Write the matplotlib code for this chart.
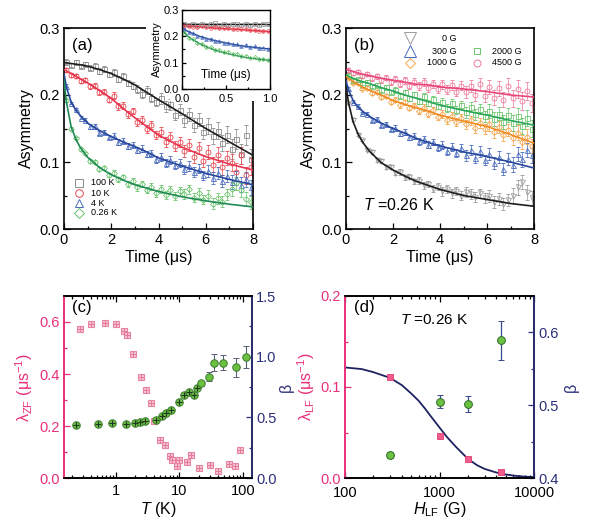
import numpy as np
import matplotlib
matplotlib.use('Agg')
import matplotlib.pyplot as plt
from matplotlib.patches import Rectangle
from matplotlib.ticker import MultipleLocator, LogLocator, NullFormatter, FixedLocator, FixedFormatter

plt.rcParams['font.family'] = ['Liberation Sans', 'DejaVu Sans']
plt.rcParams['mathtext.fontset'] = 'custom'
plt.rcParams['mathtext.rm'] = 'Liberation Sans'
plt.rcParams['mathtext.it'] = 'Liberation Sans:italic'

# ---------------- data: time spectra (a), (b) ----------------
t_data = [0.1, 0.3, 0.5, 0.7, 0.9, 1.1, 1.3, 1.5, 1.7, 1.9,
          2.1, 2.3, 2.5, 2.7, 2.9, 3.1, 3.3, 3.5, 3.7, 3.9,
          4.1, 4.3, 4.5, 4.7, 4.9, 5.1, 5.3, 5.5, 5.7, 5.9,
          6.1, 6.3, 6.5, 6.7, 6.9, 7.1, 7.3, 7.5, 7.7, 7.9]

a_labels = ['100 K', '10 K', '4 K', '0.26 K']
a_100K = [.250, .245, .249, .244, .247, .241, .244, .236, .239, .231,
          .234, .224, .228, .218, .214, .209, .202, .207, .196, .190,
          .195, .183, .186, .170, .178, .162, .171, .155, .163, .145,
          .154, .139, .147, .128, .141, .120, .134, .112, .140, .105]
a_10K = [.237, .230, .229, .221, .222, .213, .214, .204, .205, .193,
         .199, .183, .184, .171, .176, .160, .163, .149, .155, .140,
         .145, .130, .138, .124, .130, .117, .126, .108, .121, .102,
         .115, .096, .111, .092, .106, .099, .085, .110, .080, .093]
a_4K = [.214, .188, .179, .166, .163, .153, .153, .144, .145, .137,
        .139, .130, .132, .124, .126, .118, .120, .112, .113, .104,
        .107, .099, .103, .095, .098, .089, .094, .085, .090, .080,
        .086, .076, .083, .072, .079, .070, .076, .066, .074, .062]
a_026K = [.192, .150, .136, .119, .113, .101, .100, .090, .091, .081,
          .084, .074, .077, .067, .072, .062, .067, .058, .063, .053,
          .060, .051, .058, .049, .056, .052, .059, .047, .054, .044,
          .050, .038, .046, .041, .052, .060, .068, .058, .045, .040]
# error bars per 1-us block
a_err_100K = [0.003, 0.004, 0.005, 0.006, 0.008, 0.010, 0.012, 0.015]
a_err_10K = [0.003, 0.004, 0.005, 0.006, 0.007, 0.009, 0.011, 0.013]
a_err_4K = [0.002, 0.003, 0.004, 0.005, 0.006, 0.007, 0.009, 0.011]
a_err_026K = [0.002, 0.003, 0.004, 0.005, 0.006, 0.007, 0.008, 0.010]

t_fit = [0, 0.1, 0.3, 0.5, 0.7, 1.0, 1.5, 2, 2.5, 3, 3.5, 4, 5, 6, 7, 8]
a_fit_100K = [.248, .248, .247, .246, .245, .243, .238, .232, .224, .215, .204, .193, .172, .150, .130, .110]
a_fit_10K = [.238, .236, .232, .228, .224, .218, .207, .195, .180, .166, .153, .140, .122, .108, .097, .088]
a_fit_4K = [.232, .212, .190, .177, .169, .158, .147, .138, .130, .123, .115, .106, .094, .083, .074, .066]
a_fit_026K = [.222, .190, .153, .134, .121, .107, .092, .081, .073, .066, .061, .056, .048, .042, .037, .033]

b_labels = ['0 G', '300 G', '1000 G', '2000 G', '4500 G']
b_0G = [.188, .163, .141, .133, .118, .115, .103, .101, .093, .092,
        .084, .085, .077, .078, .071, .072, .065, .067, .060, .063,
        .056, .060, .053, .057, .050, .055, .052, .048, .053, .046,
        .049, .040, .045, .037, .043, .050, .062, .070, .055, .046]
b_300G = [.210, .190, .184, .173, .172, .163, .164, .155, .157, .149,
          .151, .143, .145, .137, .139, .131, .134, .126, .130, .122,
          .126, .117, .123, .114, .121, .110, .118, .106, .116, .103,
          .112, .098, .108, .089, .104, .096, .112, .104, .118, .110]
b_1000G = [.226, .218, .218, .209, .211, .203, .205, .197, .199, .190,
           .193, .185, .189, .181, .184, .176, .181, .172, .177, .167,
           .172, .163, .169, .159, .165, .156, .162, .151, .158, .149,
           .156, .145, .152, .140, .148, .136, .144, .130, .138, .124]
b_2000G = [.230, .222, .224, .217, .220, .213, .215, .208, .212, .204,
           .208, .199, .204, .195, .201, .191, .198, .188, .194, .184,
           .190, .181, .188, .178, .185, .174, .182, .171, .179, .168,
           .176, .164, .172, .160, .170, .158, .168, .154, .165, .150]
b_4500G = [.238, .233, .235, .228, .231, .225, .228, .222, .226, .219,
           .224, .217, .222, .214, .220, .213, .219, .211, .217, .209,
           .216, .208, .215, .205, .214, .204, .213, .200, .216, .199,
           .212, .196, .210, .193, .214, .195, .209, .191, .206, .188]
b_err_0G = [0.002, 0.003, 0.004, 0.005, 0.006, 0.007, 0.009, 0.011]
b_err_300G = [0.002, 0.003, 0.004, 0.005, 0.006, 0.008, 0.009, 0.011]
b_err_1000G = [0.002, 0.003, 0.004, 0.005, 0.006, 0.007, 0.009, 0.011]
b_err_2000G = [0.002, 0.003, 0.004, 0.005, 0.006, 0.008, 0.010, 0.012]
b_err_4500G = [0.003, 0.004, 0.005, 0.006, 0.007, 0.009, 0.011, 0.013]

b_fit_0G = [.215, .190, .160, .143, .130, .116, .099, .088, .079, .071, .065, .059, .050, .044, .038, .034]
b_fit_300G = [.222, .208, .192, .182, .176, .168, .158, .150, .143, .135, .129, .124, .115, .108, .100, .091]
b_fit_1000G = [.228, .225, .220, .216, .212, .207, .200, .192, .186, .181, .176, .170, .161, .153, .141, .128]
b_fit_2000G = [.230, .228, .225, .222, .220, .217, .211, .206, .200, .195, .190, .185, .177, .170, .162, .155]
b_fit_4500G = [.238, .237, .235, .233, .231, .229, .225, .222, .219, .216, .215, .212, .209, .205, .200, .197]

# inset (early times)
t_inset = [0.025, 0.075, 0.125, 0.175, 0.225, 0.275, 0.325, 0.375, 0.425, 0.475,
           0.525, 0.575, 0.625, 0.675, 0.725, 0.775, 0.825, 0.875, 0.925, 0.975]
i_100K = [.246, .243, .247, .244, .248, .242, .246, .249, .244, .247,
          .243, .248, .245, .242, .247, .244, .246, .243, .248, .245]
i_10K = [.240, .238, .237, .236, .238, .234, .233, .235, .231, .230,
         .232, .228, .229, .226, .227, .224, .225, .222, .221, .219]
i_4K = [.228, .216, .211, .201, .198, .190, .189, .182, .181, .175,
        .175, .169, .169, .163, .166, .158, .162, .155, .157, .151]
i_026K = [.214, .194, .188, .175, .171, .160, .158, .149, .148, .140,
          .140, .132, .132, .125, .126, .119, .120, .114, .115, .109]
t_inset_fit = [0, 0.05, 0.1, 0.2, 0.3, 0.4, 0.5, 0.6, 0.7, 0.8, 0.9, 1.0]
i_fit_100K = [.246, .246, .246, .246, .246, .246, .246, .246, .246, .246, .246, .246]
i_fit_10K = [.240, .239, .238, .236, .233, .231, .229, .227, .225, .222, .220, .218]
i_fit_4K = [.235, .222, .214, .200, .190, .182, .175, .168, .163, .159, .155, .152]
i_fit_026K = [.225, .205, .192, .172, .157, .145, .136, .128, .121, .116, .112, .109]

# ---------------- data: (c) ----------------
T_lam = [0.27, 0.4, 0.67, 1.0, 1.33, 1.5, 1.85, 2.5, 3.0, 3.5, 4.0, 5.0, 6.0, 7.0,
         7.6, 9.0, 10.0, 13.0, 15.0, 20.0, 30.0, 40.0, 60.0, 75.0, 92.0]
lam_ZF = [0.574, 0.591, 0.598, 0.591, 0.565, 0.549, 0.478, 0.388, 0.337, 0.287, 0.218,
          0.148, 0.126, 0.086, 0.068, 0.048, 0.068, 0.062, 0.090, 0.039, 0.051, 0.028,
          0.055, 0.048, 0.109]
T_beta = [0.23, 0.51, 0.87, 1.44, 1.97, 2.36, 2.9, 4.27, 5.3, 6.1, 7.3, 9.9, 11.6,
          13.9, 17.0, 18.8, 21.7, 29.6, 35.5, 49.0, 77.6, 111.0]
beta_ZF = [0.439, 0.447, 0.452, 0.447, 0.452, 0.460, 0.466, 0.480, 0.507, 0.535, 0.557,
           0.630, 0.685, 0.705, 0.685, 0.740, 0.780, 0.836, 0.951, 0.951, 0.913, 0.995]
beta_ZF_err = [0.0, 0.0, 0.0, 0.0, 0.0, 0.0, 0.0, 0.0, 0.0, 0.0, 0.0,
               0.0, 0.0, 0.0, 0.0, 0.0, 0.02, 0.035, 0.07, 0.06, 0.08, 0.09]

# ---------------- data: (d) ----------------
H_LF = [300, 1000, 2000, 4500]
lam_LF = [0.111, 0.0457, 0.0212, 0.0066]
beta_LF = [0.432, 0.505, 0.502, 0.589]
beta_LF_err = [0.004, 0.009, 0.011, 0.027]
H_fit = [100, 150, 200, 300, 400, 500, 600, 700, 800, 1000, 1200, 1500, 2000,
         2500, 3000, 4000, 5000, 6500, 8000, 10000]
lam_fit = [0.1215, 0.1197, 0.1163, 0.110, 0.102, 0.093, 0.085, 0.0765, 0.0685,
           0.0555, 0.0450, 0.0340, 0.0210, 0.0140, 0.0100, 0.0060, 0.0039,
           0.0023, 0.0015, 0.0010]

# ---------------- figure ----------------
W, H = 598, 531
fig = plt.figure(figsize=(W / 100, H / 100), dpi=100)


def px_axes(l, t, r, b, **kw):
    return fig.add_axes([l / W, 1 - b / H, (r - l) / W, (b - t) / H], **kw)


def base_style(ax, lab=10.5):
    ax.tick_params(which='both', direction='in', labelsize=lab, pad=3)
    ax.tick_params(which='major', length=4, width=0.9)
    ax.tick_params(which='minor', length=2.5, width=0.9)
    for s in ax.spines.values():
        s.set_linewidth(1.2)


def err_blocks(e):
    return np.repeat(np.array(e), 5)


PINK = '#e8307a'
NAVY = '#2b2f7a'

# ---- (a) ----
axA = px_axes(64, 28, 253, 229, zorder=0)
a_series = [
    (a_100K, a_err_100K, a_fit_100K, 's', '#8a8a8a', '#1e1e1e'),
    (a_10K, a_err_10K, a_fit_10K, 'o', '#e8474f', '#e8334f'),
    (a_4K, a_err_4K, a_fit_4K, '^', '#4769bd', '#27479a'),
    (a_026K, a_err_026K, a_fit_026K, 'D', '#6cc46c', '#1f8a55'),
]
for y, e, f, m, c, lc in a_series:
    axA.errorbar(t_data, y, yerr=err_blocks(e), fmt=m, ms=3.6 if m != 'D' else 3.0,
                 mfc='none', mec=c, mew=0.6, ecolor=c, elinewidth=0.5,
                 capsize=1.3, capthick=0.5, zorder=2)
for y, e, f, m, c, lc in a_series:
    axA.plot(t_fit, f, color=lc, lw=1.2, zorder=3)
axA.set_xlim(0, 8)
axA.set_ylim(0, 0.3)
axA.xaxis.set_major_locator(MultipleLocator(2))
axA.xaxis.set_minor_locator(MultipleLocator(1))
axA.yaxis.set_major_locator(MultipleLocator(0.1))
axA.yaxis.set_minor_locator(MultipleLocator(0.05))
base_style(axA)
axA.set_xlabel('Time (μs)', fontsize=11.5, labelpad=2)
axA.set_ylabel('Asymmetry', fontsize=11.5, labelpad=4)
axA.text(0.04, 0.95, '(a)', transform=axA.transAxes, fontsize=12, va='top', ha='left')
leg_y = [0.229, 0.179, 0.129, 0.080]
for (y, e, f, m, c, lc), lab, yy in zip(a_series, a_labels, leg_y):
    axA.plot([0.079], [yy], m, transform=axA.transAxes, ms=5.5 if m != 'D' else 5.0,
             mfc='none', mec=c, mew=0.7, clip_on=False, zorder=4)
    axA.text(0.143, yy, lab, transform=axA.transAxes, fontsize=6.5, va='center', ha='left')

# white cover behind inset
fig.add_artist(Rectangle((146 / W, 1 - 84 / H), (280 - 146) / W, 84 / H,
                         transform=fig.transFigure, facecolor='white', edgecolor='none', zorder=1))
fig.add_artist(Rectangle((170 / W, 1 - 101 / H), (280 - 170) / W, 101 / H,
                         transform=fig.transFigure, facecolor='white', edgecolor='none', zorder=1))

# ---- inset ----
axI = px_axes(182, 10, 270, 89, zorder=2)
i_series = [
    (i_100K, i_fit_100K, 's', '#8a8a8a', '#1e1e1e'),
    (i_10K, i_fit_10K, 'o', '#e8474f', '#e8334f'),
    (i_4K, i_fit_4K, '^', '#4769bd', '#27479a'),
    (i_026K, i_fit_026K, 'D', '#6cc46c', '#1f8a55'),
]
for y, f, m, c, lc in i_series:
    axI.errorbar(t_inset, y, yerr=0.003, fmt=m, ms=2.6 if m != 'D' else 2.2,
                 mfc='none', mec=c, mew=0.5, ecolor=c, elinewidth=0.4,
                 capsize=0.8, capthick=0.4)
for y, f, m, c, lc in i_series:
    axI.plot(t_inset_fit, f, color=lc, lw=1.0)
axI.set_xlim(0, 1)
axI.set_ylim(0, 0.3)
axI.xaxis.set_major_locator(FixedLocator([0, 0.5, 1.0]))
axI.xaxis.set_major_formatter(FixedFormatter(['0.0', '0.5', '1.0']))
axI.xaxis.set_minor_locator(MultipleLocator(0.25))
axI.yaxis.set_major_locator(MultipleLocator(0.1))
axI.yaxis.set_minor_locator(MultipleLocator(0.05))
base_style(axI, lab=8)
axI.tick_params(which='major', length=3)
axI.tick_params(which='minor', length=1.8)
axI.tick_params(axis='y', pad=2)
axI.tick_params(axis='x', pad=3.5)
for s in axI.spines.values():
    s.set_linewidth(1.0)
axI.text(0.5, 0.1, 'Time (μs)', transform=axI.transAxes, fontsize=8.5, ha='center', va='bottom')
axI.set_ylabel('Asymmetry', fontsize=8, labelpad=1)

# ---- (b) ----
axB = px_axes(346, 28, 534, 229)
b_series = [
    (b_0G, b_err_0G, b_fit_0G, 'v', '#9a9a9a', '#1e1e1e'),
    (b_300G, b_err_300G, b_fit_300G, '^', '#4769bd', '#27479a'),
    (b_1000G, b_err_1000G, b_fit_1000G, 'D', '#f5a54a', '#f08a24'),
    (b_2000G, b_err_2000G, b_fit_2000G, 's', '#6cc46c', '#2aa55a'),
    (b_4500G, b_err_4500G, b_fit_4500G, 'o', '#ee7a9a', '#e8457a'),
]
for y, e, f, m, c, lc in b_series:
    axB.errorbar(t_data, y, yerr=err_blocks(e), fmt=m, ms=3.6 if m != 'D' else 3.0,
                 mfc='none', mec=c, mew=0.6, ecolor=c, elinewidth=0.5,
                 capsize=1.3, capthick=0.5, zorder=2)
for y, e, f, m, c, lc in b_series:
    axB.plot(t_fit, f, color=lc, lw=1.2, zorder=3)
axB.set_xlim(0, 8)
axB.set_ylim(0, 0.3)
axB.xaxis.set_major_locator(MultipleLocator(2))
axB.xaxis.set_minor_locator(MultipleLocator(1))
axB.yaxis.set_major_locator(MultipleLocator(0.1))
axB.yaxis.set_minor_locator(MultipleLocator(0.05))
base_style(axB)
axB.set_xlabel('Time (μs)', fontsize=11.5, labelpad=2)
axB.set_ylabel('Asymmetry', fontsize=11.5, labelpad=4)
axB.text(0.04, 0.95, '(b)', transform=axB.transAxes, fontsize=12, va='top', ha='left')
axB.text(0.09, 0.08, '$T$ =0.26 K', transform=axB.transAxes, fontsize=11.5, va='bottom', ha='left')
leg_pos = [(0.34, 0.948, 0.59, 'right'), (0.34, 0.885, 0.59, 'right'), (0.34, 0.826, 0.59, 'right'),
           (0.697, 0.885, 0.777, 'left'), (0.697, 0.826, 0.777, 'left')]
for (y, e, f, m, c, lc), lab, (mx, my, tx, ha) in zip(b_series, b_labels, leg_pos):
    axB.plot([mx], [my], m, transform=axB.transAxes, ms=8.0 if m in 'v^' else 5.0,
             mfc='none', mec=c, mew=0.7, clip_on=False, zorder=4)
    axB.text(tx, my, lab, transform=axB.transAxes, fontsize=6.5, va='center', ha=ha)

# ---- (c) ----
axC = px_axes(64, 296, 252, 478)
axC.set_xscale('log')
axC.plot(T_lam, lam_ZF, 's', ms=5.0, mfc='#f8c3d3', mec='#e8849f', mew=0.8, zorder=3)
axC.plot(T_lam, lam_ZF, '+', ms=4.0, mec='#e27a98', mew=0.7, zorder=4)
axC.set_xlim(0.15, 140)
axC.set_ylim(0, 0.7)
axC.yaxis.set_major_locator(MultipleLocator(0.2))
axC.yaxis.set_minor_locator(MultipleLocator(0.1))
axC.xaxis.set_major_locator(FixedLocator([1, 10, 100]))
axC.xaxis.set_major_formatter(FixedFormatter(['1', '10', '100']))
axC.xaxis.set_minor_locator(LogLocator(base=10, subs=np.arange(2, 10)))
axC.xaxis.set_minor_formatter(NullFormatter())
base_style(axC)
axC.tick_params(axis='x', which='both', top=True, pad=4.5)
axC.tick_params(axis='y', which='both', colors=PINK)
axC.spines['left'].set_color(PINK)
axC.set_ylabel('λ$_{\\rm ZF}$ (μs$^{-1}$)', fontsize=11.5, color=PINK, labelpad=3)
axC.set_xlabel('$T$ (K)', fontsize=11.5, labelpad=1)
axC.text(0.04, 0.98, '(c)', transform=axC.transAxes, fontsize=12, va='top', ha='left')

axC2 = axC.twinx()
axC2.errorbar(T_beta, beta_ZF, yerr=beta_ZF_err, fmt='o', ms=5.4, mfc='#6cc040', mec='#3a7a30',
              mew=0.7, ecolor='#5a6078', elinewidth=0.8, capsize=2.2, capthick=0.8, zorder=3)
axC2.plot(T_beta[:16], beta_ZF[:16], '+', ms=4.5, mec='#203820', mew=0.8, zorder=4)
axC2.set_ylim(0, 1.5)
axC2.yaxis.set_major_locator(MultipleLocator(0.5))
axC2.yaxis.set_minor_locator(MultipleLocator(0.25))
base_style(axC2)
axC2.tick_params(axis='y', which='both', colors=NAVY)
axC2.spines['right'].set_color(NAVY)
axC2.spines['left'].set_color(PINK)
axC2.set_ylabel('β', fontsize=11.5, color=NAVY, labelpad=1.5)

# ---- (d) ----
axD = px_axes(345, 296, 534, 478)
axD.set_xscale('log')
axD.plot(H_fit, lam_fit, color='#1c2262', lw=1.3, zorder=2)
axD.plot(H_LF, lam_LF, 's', ms=4.6, mfc='#f05a8c', mec='#e03a70', mew=0.6, zorder=3)
axD.set_xlim(100, 10000)
axD.set_ylim(0, 0.2)
axD.yaxis.set_major_locator(MultipleLocator(0.1))
axD.yaxis.set_minor_locator(MultipleLocator(0.05))
axD.xaxis.set_major_locator(FixedLocator([100, 1000, 10000]))
axD.xaxis.set_major_formatter(FixedFormatter(['100', '1000', '10000']))
axD.xaxis.set_minor_locator(LogLocator(base=10, subs=np.arange(2, 10)))
axD.xaxis.set_minor_formatter(NullFormatter())
base_style(axD)
axD.tick_params(axis='x', which='both', top=True, pad=6)
axD.tick_params(axis='y', which='both', colors=PINK)
axD.spines['left'].set_color(PINK)
axD.set_ylabel('λ$_{\\rm LF}$ (μs$^{-1}$)', fontsize=11.5, color=PINK, labelpad=2.5)
axD.set_xlabel('$H_{\\rm LF}$ (G)', fontsize=11.5, labelpad=0)
axD.text(0.05, 0.98, '(d)', transform=axD.transAxes, fontsize=12, va='top', ha='left')
axD.text(0.29, 0.87, '$T$ =0.26 K', transform=axD.transAxes, fontsize=11, va='center', ha='left')

axD2 = axD.twinx()
axD2.errorbar(H_LF, beta_LF, yerr=beta_LF_err, fmt='o', ms=5.6, mfc='#6cc040', mec='#2f6a2a',
              mew=0.7, ecolor='#3a4a90', elinewidth=0.9, capsize=2.4, capthick=0.9, zorder=3)
axD2.set_ylim(0.4, 0.65)
axD2.yaxis.set_major_locator(MultipleLocator(0.1))
axD2.yaxis.set_minor_locator(MultipleLocator(0.05))
base_style(axD2)
axD2.tick_params(axis='y', which='both', colors=NAVY)
axD2.spines['right'].set_color(NAVY)
axD2.spines['left'].set_color(PINK)
axD2.set_ylabel('β', fontsize=11.5, color=NAVY, labelpad=4)

fig.savefig('out.png', dpi=100)
